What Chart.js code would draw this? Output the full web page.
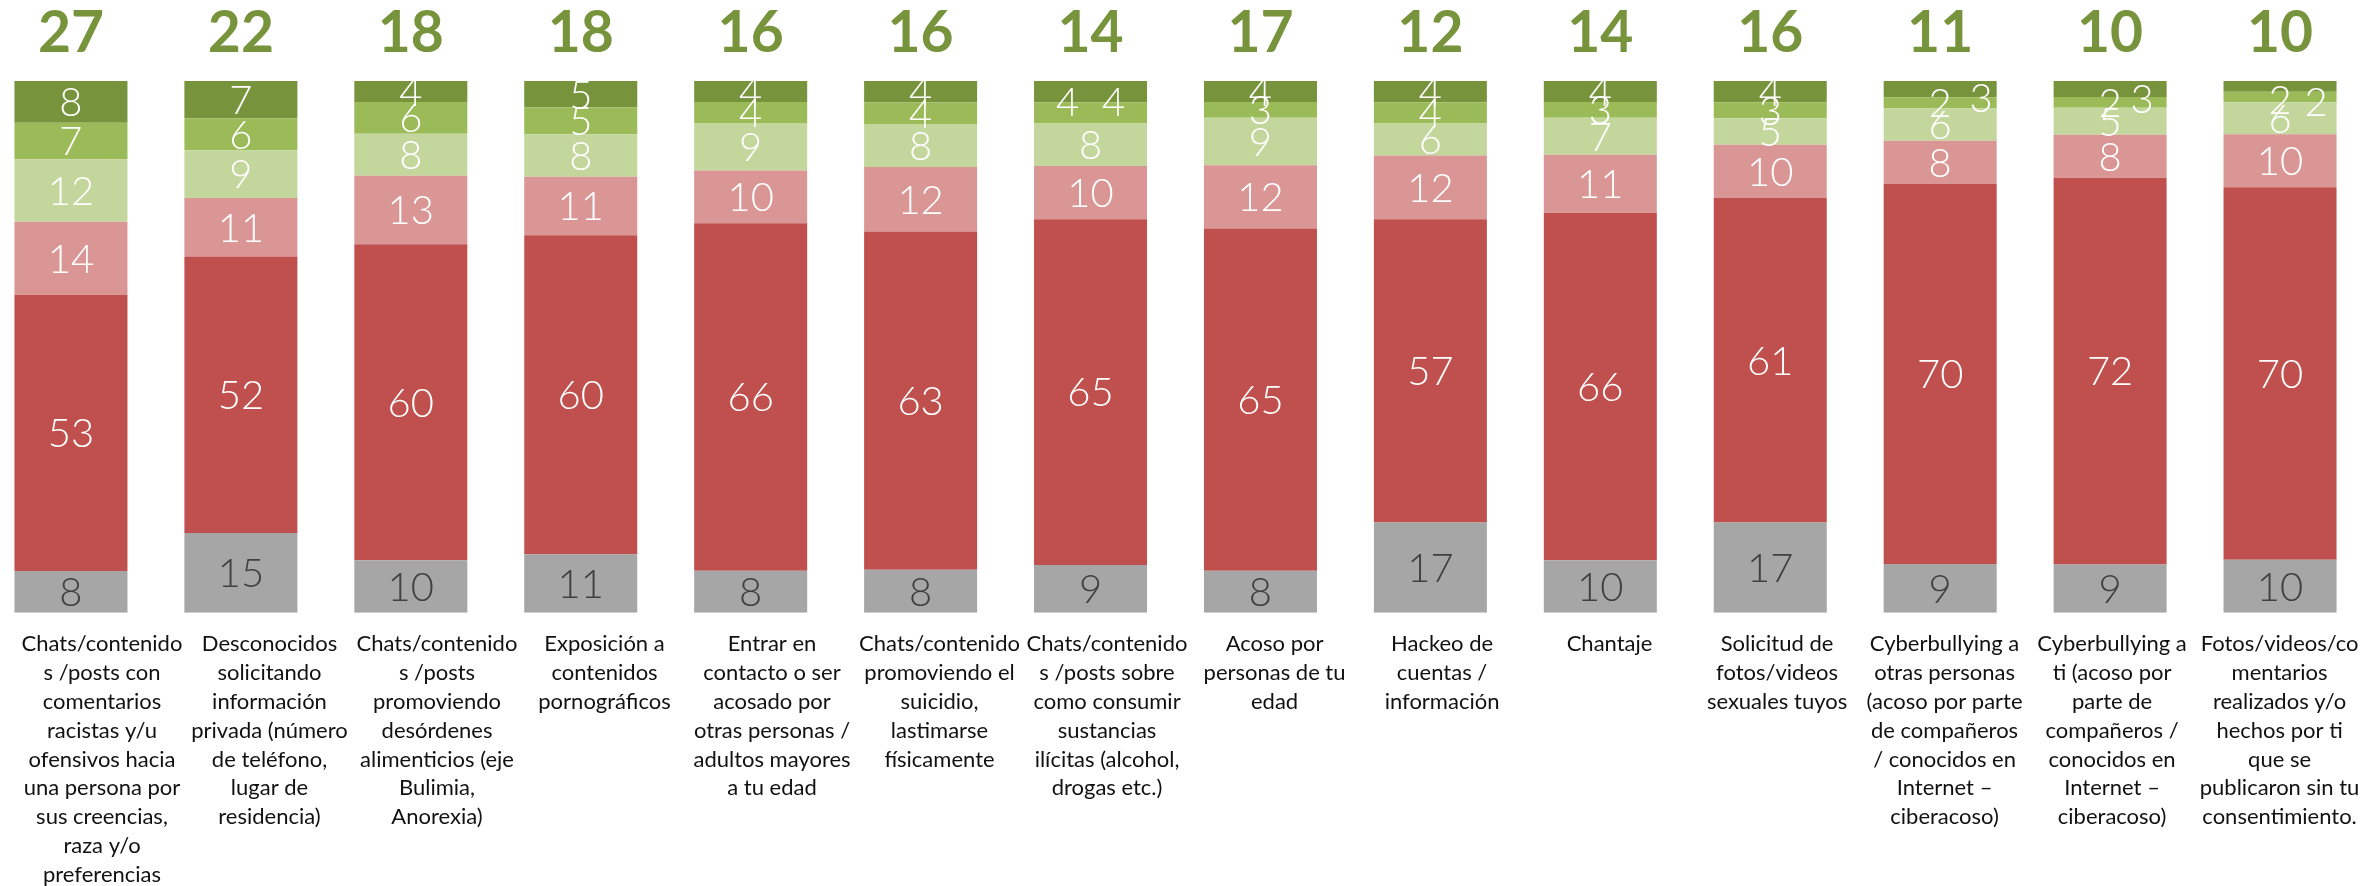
<!DOCTYPE html>
<html lang="es">
<head>
    <meta charset="UTF-8">
    <title>Chart</title>
    <style>
        html, body { margin: 0; padding: 0; overflow: hidden; background: #fff; }
        #wrap { position: absolute; left: -14px; top: 0; width: 2379px; height: 906px; }
    </style>
</head>
<body>
<div id="wrap">
    <canvas id="myChart"></canvas>
</div>

<script src="https://cdn.jsdelivr.net/npm/chart.js"></script>

<script>
    const categories = [
        ['Chats/contenido', 's /posts con', 'comentarios', 'racistas y/u', 'ofensivos hacia', 'una persona por', 'sus creencias,', 'raza y/o', 'preferencias'],
        ['Desconocidos', 'solicitando', 'información', 'privada (número', 'de teléfono,', 'lugar de', 'residencia)'],
        ['Chats/contenido', 's /posts', 'promoviendo', 'desórdenes', 'alimenticios (eje', 'Bulimia,', 'Anorexia)'],
        ['Exposición a', 'contenidos', 'pornográficos'],
        ['Entrar en', 'contacto o ser', 'acosado por', 'otras personas /', 'adultos mayores', 'a tu edad'],
        ['Chats/contenido', 'promoviendo el', 'suicidio,', 'lastimarse', 'físicamente'],
        ['Chats/contenido', 's /posts sobre', 'como consumir', 'sustancias', 'ilícitas (alcohol,', 'drogas etc.)'],
        ['Acoso por', 'personas de tu', 'edad'],
        ['Hackeo de', 'cuentas /', 'información'],
        ['Chantaje'],
        ['Solicitud de', 'fotos/videos', 'sexuales tuyos'],
        ['Cyberbullying a', 'otras personas', '(acoso por parte', 'de compañeros', '/ conocidos en', 'Internet –', 'ciberacoso)'],
        ['Cyberbullying a', 'ti (acoso por', 'parte de', 'compañeros /', 'conocidos en', 'Internet –', 'ciberacoso)'],
        ['Fotos/videos/co', 'mentarios', 'realizados y/o', 'hechos por ti', 'que se', 'publicaron sin tu', 'consentimiento.']
    ];

    // totals shown above each bar
    const topTotals = [27, 22, 18, 18, 16, 16, 14, 17, 12, 14, 16, 11, 10, 10];

    // stacked segments, bottom to top
    const grey       = [8, 15, 10, 11, 8, 8, 9, 8, 17, 10, 17, 9, 9, 10];
    const darkRed    = [53, 52, 60, 60, 66, 63, 65, 65, 57, 66, 61, 70, 72, 70];
    const lightRed   = [14, 11, 13, 11, 10, 12, 10, 12, 12, 11, 10, 8, 8, 10];
    const lightGreen = [12, 9, 8, 8, 9, 8, 8, 9, 6, 7, 5, 6, 5, 6];
    const midGreen   = [7, 6, 6, 5, 4, 4, 4, 3, 4, 3, 3, 2, 2, 2];
    const darkGreen  = [8, 7, 4, 5, 4, 4, 4, 4, 4, 4, 4, 3, 3, 2];

    const series = [grey, darkRed, lightRed, lightGreen, midGreen, darkGreen];
    const colors = ['#A6A6A6', '#C0504D', '#D99694', '#C3D69B', '#9BBB59', '#77933C'];
    const labelColors = ['#404040', '#fff', '#fff', '#fff', '#fff', '#fff'];

    // 100% stacked: each bar scaled to its own total
    const totals = categories.map((c, i) => series.reduce((s, arr) => s + arr[i], 0));
    const datasets = series.map((arr, k) => ({
        label: 's' + k,
        data: arr.map((v, i) => v / totals[i] * 100),
        raw: arr,
        backgroundColor: colors[k],
        borderWidth: 0,
        categoryPercentage: 1,
        barPercentage: 0.665
    }));

    // nudges for overlapping labels, like the original
    const nudges = {
        '5-6': [-23, 10], '4-6': [23, -11],
        '5-11': [41, 9],
        '5-12': [32, 10],
        '5-13': [36, 15], '4-13': [0, 3]
    };

    const barLabels = {
        id: 'barLabels',
        afterDatasetsDraw(chart) {
            const ctx = chart.ctx;
            ctx.save();
            ctx.textAlign = 'center';
            ctx.textBaseline = 'alphabetic';
            const size = 40;
            ctx.font = '300 ' + size + 'px Lato';
            chart.data.datasets.forEach((ds, k) => {
                const meta = chart.getDatasetMeta(k);
                meta.data.forEach((el, i) => {
                    const n = nudges[k + '-' + i] || [0, 0];
                    const cy = (el.y + el.base) / 2 + n[1];
                    ctx.fillStyle = labelColors[k];
                    ctx.fillText(String(ds.raw[i]), el.x + n[0], cy + size * 0.358);
                });
            });
            // totals on top
            const topMeta = chart.getDatasetMeta(chart.data.datasets.length - 1);
            ctx.font = 'bold 57px Lato';
            ctx.fillStyle = '#77933C';
            topMeta.data.forEach((el, i) => {
                ctx.fillText(String(topTotals[i]), el.x, 52);
            });
            ctx.restore();
        }
    };

    const ctx = document.getElementById('myChart');

    new Chart(ctx, {
        type: 'bar',
        data: {
            labels: categories.map((c, i) => 'c' + i),
            datasets: datasets
        },
        options: {
            responsive: true,
            maintainAspectRatio: false,
            animation: false,
            layout: { padding: { top: 81, left: 0, right: 0, bottom: 0 }, autoPadding: false },
            plugins: {
                legend: { display: false },
                tooltip: { enabled: false }
            },
            scales: {
                x: {
                    stacked: true,
                    display: false
                },
                // label axis: the text boxes sit on a slightly different spacing than the bars
                x2: {
                    type: 'linear',
                    axis: 'x',
                    position: 'bottom',
                    offset: false,
                    bounds: 'data',
                    min: -0.6925,
                    max: 13.51,
                    grid: { display: false, drawTicks: false, offset: false },
                    border: { display: false },
                    afterBuildTicks: function (scale) {
                        scale.ticks = categories.map((c, i) => ({ value: i }));
                    },
                    afterFit: function (scale) {
                        scale.paddingLeft = 0;
                        scale.paddingRight = 0;
                    },
                    ticks: {
                        autoSkip: false,
                        includeBounds: false,
                        maxRotation: 0,
                        minRotation: 0,
                        padding: 17,
                        color: '#111',
                        font: { family: 'Lato', size: 22, lineHeight: 1.309 },
                        callback: function (value) {
                            return categories[value];
                        }
                    }
                },
                y: {
                    stacked: true,
                    min: 0,
                    max: 100,
                    display: false
                }
            }
        },
        plugins: [barLabels]
    });
</script>

</body>
</html>
